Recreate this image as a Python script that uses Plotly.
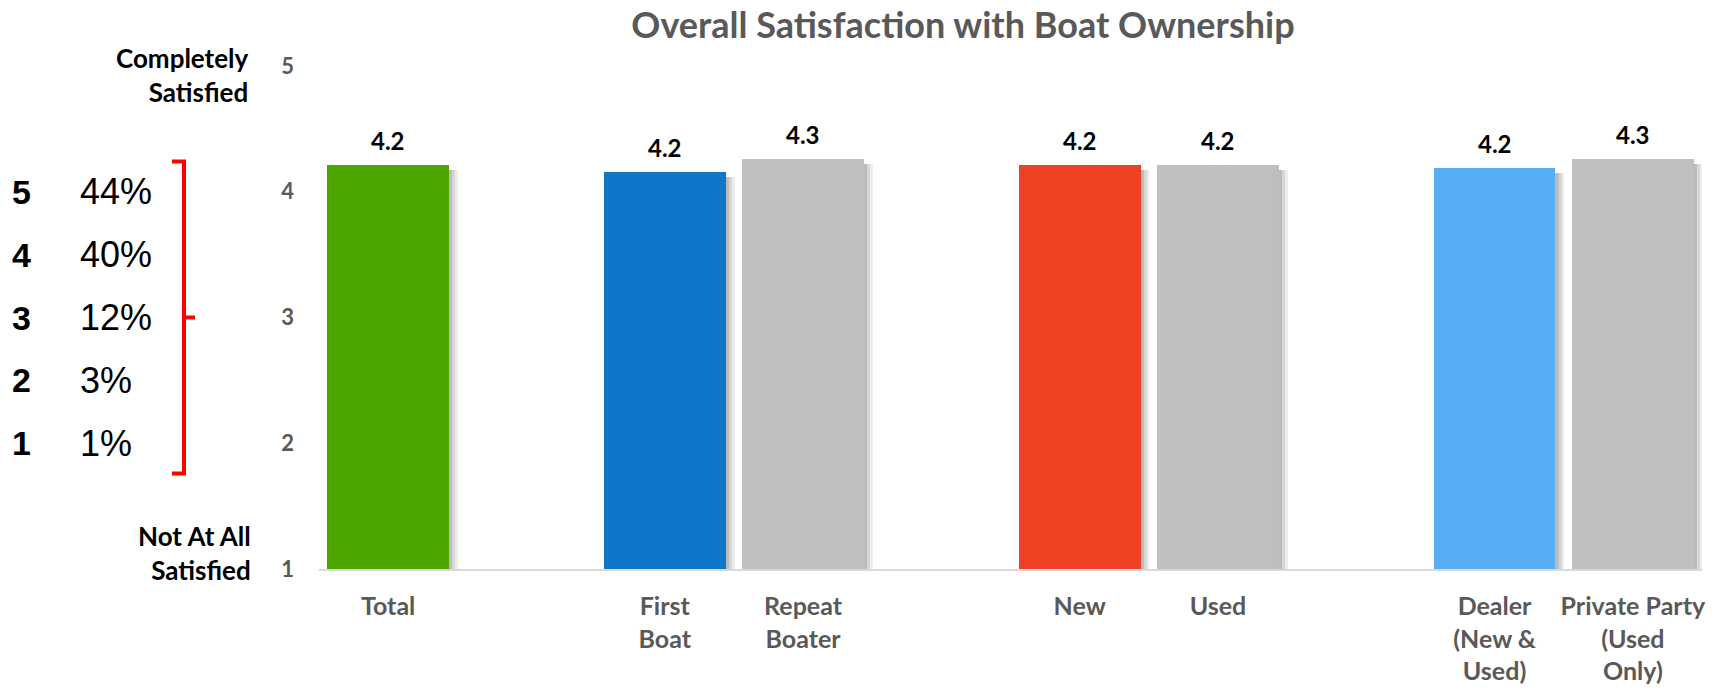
import plotly.graph_objects as go

# Overall satisfaction (1-5 scale) by owner segment
groups = [
    ["Total"],
    ["First<br>Boat", "Repeat<br>Boater"],
    ["New", "Used"],
    ["Dealer<br>(New &<br>Used)", "Private Party<br>(Used<br>Only)"],
]
group_scores = [
    [4.21],
    [4.16, 4.26],
    [4.21, 4.21],
    [4.19, 4.26],
]
group_colors = [
    ["#4EA600"],
    ["#0F77C9", "#BFBFBF"],
    ["#F04124", "#BFBFBF"],
    ["#57AEF4", "#BFBFBF"],
]

# Distribution of ratings across all respondents
rating_levels = [5, 4, 3, 2, 1]
rating_shares = [44, 40, 12, 3, 1]

y_ticks = [1, 2, 3, 4, 5]

W, H = 1727, 694
M_L, M_R, M_T, M_B = 319, 25, 66, 125
PLOT_W = W - M_L - M_R
PLOT_H = H - M_T - M_B


def paper_x(px):
    return (px - M_L) / PLOT_W


def paper_y(py):
    return (H - M_B - py) / PLOT_H


# lay the bars out with an empty slot between segments
xs, labels, scores, colors = [], [], [], []
pos = 0
for names, vals, cols in zip(groups, group_scores, group_colors):
    for n, v, c in zip(names, vals, cols):
        xs.append(pos)
        labels.append(n)
        scores.append(v)
        colors.append(c)
        pos += 1
    pos += 1

LABEL_FONT = "Lato"
GRAY_TEXT = "#595959"
BAR_W = 0.88

fig = go.Figure()

# soft drop shadow to the right of each bar
for dx, alpha in [(0.065, 0.07), (0.045, 0.09), (0.025, 0.12)]:
    fig.add_trace(go.Bar(
        x=[x + dx for x in xs], y=[s - 0.04 for s in scores], width=BAR_W,
        marker=dict(color=f"rgba(0,0,0,{alpha})", line=dict(width=0)),
        hoverinfo="skip", showlegend=False,
    ))

fig.add_trace(go.Bar(
    x=xs, y=scores, width=BAR_W,
    marker=dict(color=colors, line=dict(width=0)),
    showlegend=False,
))

# value labels above bars
for x, s in zip(xs, scores):
    fig.add_annotation(
        x=x, y=s, xref="x", yref="y", text=f"{s:.1f}", showarrow=False,
        yanchor="bottom", yshift=8,
        font=dict(family=LABEL_FONT, size=24, color="#000000", weight="bold"),
    )

# scale end descriptions
fig.add_annotation(
    x=paper_x(251), y=paper_y(75), xref="paper", yref="paper",
    text="Completely<br>Satisfied", showarrow=False, xanchor="right", yanchor="middle",
    align="right", font=dict(family=LABEL_FONT, size=26, color="#000000", weight="bold"),
)
fig.add_annotation(
    x=paper_x(253), y=paper_y(553), xref="paper", yref="paper",
    text="Not At All<br>Satisfied", showarrow=False, xanchor="right", yanchor="middle",
    align="right", font=dict(family=LABEL_FONT, size=26, color="#000000", weight="bold"),
)

# rating distribution list
for i, (lvl, share) in enumerate(zip(rating_levels, rating_shares)):
    yv = 4 - 0.5 * i
    fig.add_annotation(
        x=paper_x(10), y=yv, xref="paper", yref="y", text=str(lvl), showarrow=False,
        xanchor="left", yanchor="middle",
        font=dict(family="Liberation Sans", size=34, color="#000000", weight="bold"),
    )
    fig.add_annotation(
        x=paper_x(78), y=yv, xref="paper", yref="y", text=f"{share}%", showarrow=False,
        xanchor="left", yanchor="middle",
        font=dict(family="Liberation Sans", size=36, color="#000000"),
    )

# red bracket spanning the list
bx = paper_x(184)
fig.add_shape(type="path", xref="paper", yref="y",
              path=f"M {paper_x(172)},4.24 L {bx},4.24 L {bx},1.76 L {paper_x(172)},1.76",
              line=dict(color="#FF0000", width=4))
fig.add_shape(type="line", xref="paper", yref="y", x0=bx, x1=paper_x(195), y0=3, y1=3,
              line=dict(color="#FF0000", width=4))

fig.update_layout(
    width=W, height=H,
    margin=dict(l=M_L, r=M_R, t=M_T, b=M_B),
    paper_bgcolor="white", plot_bgcolor="white",
    barmode="overlay", bargap=0,
    title=dict(
        text="Overall Satisfaction with Boat Ownership",
        x=963 / W, xanchor="center",
        y=1 - 25 / H, yanchor="middle",
        font=dict(family=LABEL_FONT, size=36, color=GRAY_TEXT, weight="bold"),
    ),
    xaxis=dict(
        range=[-0.5, 9.5], tickmode="array", tickvals=xs, ticktext=labels,
        showgrid=False, zeroline=False, showline=True, linecolor="#D9D9D9", linewidth=2,
        ticks="", ticklabelstandoff=14, automargin=False,
        tickfont=dict(family=LABEL_FONT, size=25, color=GRAY_TEXT, weight="bold"),
    ),
    yaxis=dict(
        range=[1, 5], tickmode="array", tickvals=y_ticks, automargin=False,
        showgrid=False, zeroline=False, showline=False, ticks="", ticklabelstandoff=24,
        tickfont=dict(family=LABEL_FONT, size=22, color=GRAY_TEXT, weight="bold"),
    ),
)

fig.write_html("out.html")
